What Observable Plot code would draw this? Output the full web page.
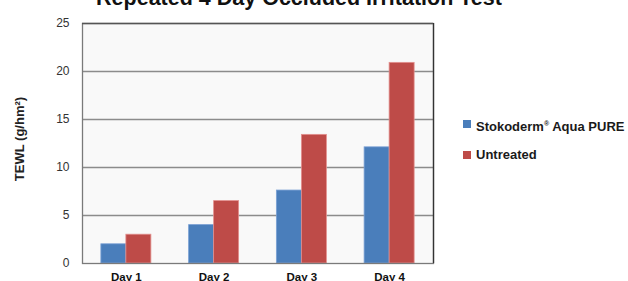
<!DOCTYPE html>
<html>
<head>
<meta charset="utf-8">
<script src="https://cdn.jsdelivr.net/npm/d3@7"></script>
<script src="https://cdn.jsdelivr.net/npm/@observablehq/plot@0.6"></script>
<style>
  html, body { margin: 0; padding: 0; background: #fff; overflow: hidden; }
  #wrap { position: relative; width: 628px; height: 281px; overflow: hidden; font-family: "Liberation Sans", Arial, sans-serif; }
  #title { position: absolute; left: 0; width: 598px; text-align: center; top: -12px; font-size: 21.5px; line-height: 21.5px; font-weight: bold; color: #111; white-space: nowrap; }
  #ylabel { position: absolute; left: 19px; top: 139px; transform: translate(-50%, -50%) rotate(-90deg); font-size: 13px; font-weight: bold; color: #222; white-space: nowrap; }
  #legend { position: absolute; left: 463px; top: 0; }
  .item { position: absolute; white-space: nowrap; font-size: 13px; font-weight: bold; color: #1a1a1a; line-height: 13px; }
  .sw { position: absolute; width: 8px; height: 8px; }
  .item sup { font-size: 7px; vertical-align: 5px; }
  #chart svg g[aria-label="x-axis tick label"] text { font-weight: bold; fill: #111; font-size: 11.5px; }
  #chart svg g[aria-label="y-axis tick label"] text { fill: #333; font-size: 12px; }
</style>
</head>
<body>
<div id="wrap">
  <div id="chart"></div>
  <div id="title">Repeated 4 Day Occluded Irritation Test</div>
  <div id="ylabel">TEWL (g/hm²)</div>
  <div id="legend"></div>
</div>
<script>
// ---- data ----
const days = ["Day 1", "Day 2", "Day 3", "Day 4"];
const seriesNames = ["Stokoderm® Aqua PURE", "Untreated"];
const stokoderm = [2.0, 4.0, 7.6, 12.1];
const untreated = [3.0, 6.5, 13.4, 20.9];
const yTicks = [0, 5, 10, 15, 20, 25];
const colors = ["#4a7ebb", "#be4b48"];
const edges = ["#7aa0d4", "#e3908e"];

// ---- build table ----
const halfGroup = 0.285; // bar width in band units
const rows = [];
[stokoderm, untreated].forEach((vals, s) => {
  vals.forEach((v, i) => {
    const x1 = (i + 1) + (s === 0 ? -halfGroup : 0);
    rows.push({day: days[i], series: seriesNames[s], x1, x2: x1 + halfGroup, value: v});
  });
});

const chart = Plot.plot({
  width: 628,
  height: 281,
  marginLeft: 82,
  marginRight: 195,
  marginTop: 23,
  marginBottom: 18,
  style: {fontFamily: "'Liberation Sans', Arial, sans-serif", fontSize: "12px", background: "transparent"},
  x: {domain: [0.5, days.length + 0.5], ticks: days.map((d, i) => i + 1), tickFormat: d => days[d - 1], tickSize: 0, tickPadding: 9, label: null},
  y: {domain: [0, 25], ticks: yTicks, tickSize: 0, tickPadding: 13, label: null},
  color: {domain: seriesNames, range: colors},
  marks: [
    Plot.frame({fill: "#f9f9f9", stroke: null}),
    Plot.ruleY(yTicks.slice(1, -1), {stroke: "#8c8c8c", strokeWidth: 1.3}),
    Plot.rectY(rows, {x1: "x1", x2: "x2", y: "value", fill: "series", stroke: d => edges[seriesNames.indexOf(d.series)], strokeWidth: 0.8}),
    Plot.frame({stroke: "#7a7a7a", strokeWidth: 1.3}),
    Plot.ruleX([days.length + 0.5], {stroke: "#333", strokeWidth: 1.3}),
    Plot.ruleY([25], {stroke: "#555", strokeWidth: 1.3})
  ]
});
document.getElementById("chart").appendChild(chart);

// legend
const legend = document.getElementById("legend");
const legendTops = [118, 149];
seriesNames.forEach((name, s) => {
  const sw = document.createElement("div");
  sw.className = "sw";
  sw.style.left = "0px";
  sw.style.top = (legendTops[s] + 2) + "px";
  sw.style.background = colors[s];
  legend.appendChild(sw);
  const it = document.createElement("div");
  it.className = "item";
  it.style.left = "13px";
  it.style.top = (legendTops[s] - 1) + "px";
  it.innerHTML = name.replace("®", "<sup>®</sup>");
  legend.appendChild(it);
});
</script>
</body>
</html>
